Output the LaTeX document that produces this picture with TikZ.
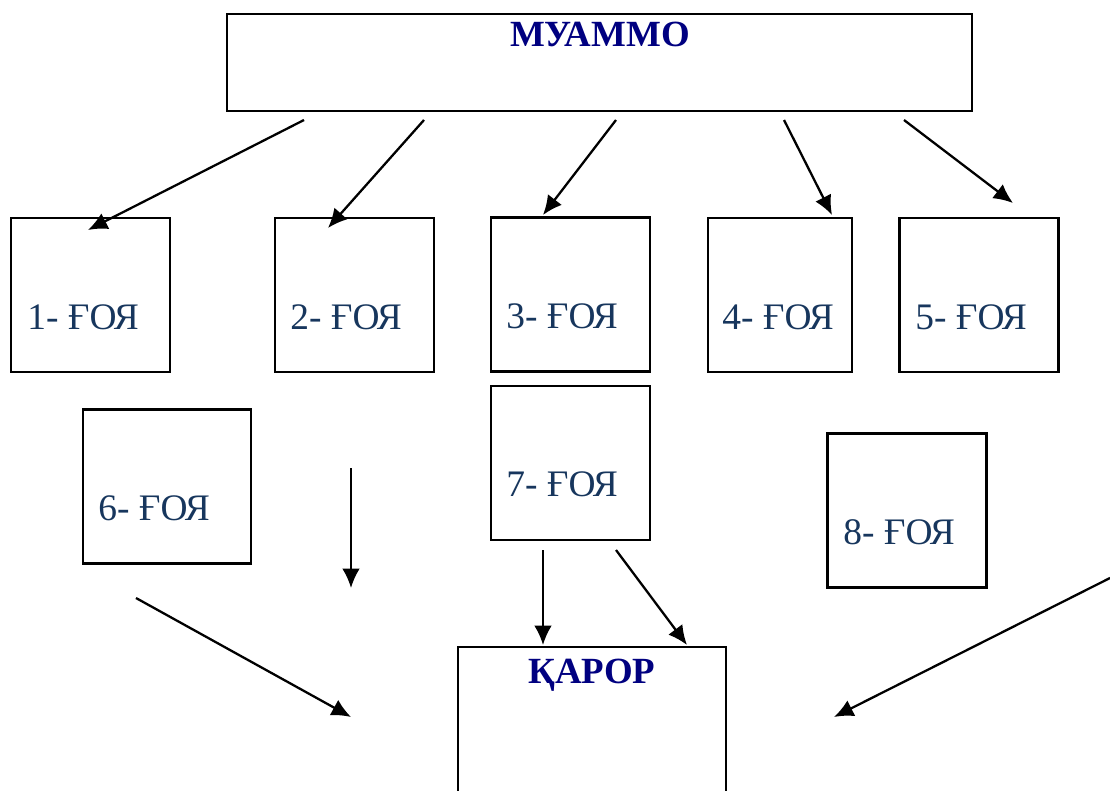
\documentclass[tikz,border=0pt]{standalone}
\usepackage{fontspec}
\setmainfont{Liberation Serif}
\usepackage{xcolor}
\usetikzlibrary{arrows.meta}
\definecolor{goyablue}{RGB}{23,54,93}
\definecolor{titleblue}{RGB}{0,0,128}

\begin{document}
\begin{tikzpicture}[x=0.02cm, y=-0.02cm,
    box/.style={draw, rectangle, line width=1.3pt, minimum width=3.18cm, minimum height=3.08cm, inner sep=0pt},
    goya/.style={anchor=base west, inner sep=0pt, text=goyablue, font=\fontsize{21.3}{25}\selectfont},
    title/.style={anchor=base, inner sep=0pt, text=titleblue, font=\fontsize{21}{25}\selectfont\bfseries},
    arr/.style={-{Latex[length=11pt,width=10pt]}, line width=1.3pt}]
    \useasboundingbox (0,0) rectangle (1110,791);

    % Problem
    \node [box, minimum width=14.9cm, minimum height=1.94cm] (muammo) at (599.5,62.5) {};
    \node [title] (muammotext) at (600,47) {МУАММО};

    % Ideas, first row
    \node [box] (goya1) at (90.5,295) {};
    \node [goya] (goya1text) at (27,329) {1- ҒОЯ};
    \node [box] (goya2) at (354.5,295) {};
    \node [goya] (goya2text) at (290,329) {2- ҒОЯ};
    \node [box] (goya3) at (570.5,294.5) {};
    \node [goya] (goya3text) at (506,328) {3- ҒОЯ};
    \node [box, minimum width=2.88cm] (goya4) at (780,295) {};
    \node [goya] (goya4text) at (722,329) {4- ҒОЯ};
    \node [box] (goya5) at (979,295) {};
    \node [goya] (goya5text) at (915,329) {5- ҒОЯ};

    % Ideas, second row
    \node [box, minimum width=3.36cm] (goya6) at (167,486.5) {};
    \node [goya] (goya6text) at (98,520) {6- ҒОЯ};
    \node [box] (goya7) at (570.5,463) {};
    \node [goya] (goya7text) at (506,496) {7- ҒОЯ};
    \node [box] (goya8) at (907,510.5) {};
    \node [goya] (goya8text) at (843,544) {8- ҒОЯ};

    % Decision
    \node [box, minimum width=5.36cm, minimum height=3cm] (qaror) at (592,722) {};
    \node [title] (qarortext) at (592,683) {ҚАРОР};

    % Arrow ends
    \coordinate (m1) at (304,120); \coordinate (t1) at (88,230);
    \coordinate (m2) at (424,120); \coordinate (t2) at (328,228);
    \coordinate (m3) at (616,120); \coordinate (t3) at (543,215);
    \coordinate (m4) at (784,120); \coordinate (t4) at (832,215);
    \coordinate (m5) at (904,120); \coordinate (t5) at (1013,203);
    \coordinate (down1) at (351,468); \coordinate (down2) at (351,588);
    \coordinate (g7a) at (543,550); \coordinate (q1) at (543,645);
    \coordinate (g7b) at (616,550); \coordinate (q2) at (687,645);
    \coordinate (left1) at (136,598); \coordinate (left2) at (351,717);
    \coordinate (right1) at (1110,578); \coordinate (right2) at (834,717);

    % Arrows
    \foreach \i in {1,...,5}
        \draw [arr] (m\i) -- (t\i);
    \draw [arr] (down1) -- (down2);
    \draw [arr] (g7a) -- (q1);
    \draw [arr] (g7b) -- (q2);
    \draw [arr] (left1) -- (left2);
    \draw [arr] (right1) -- (right2);
\end{tikzpicture}
\end{document}
